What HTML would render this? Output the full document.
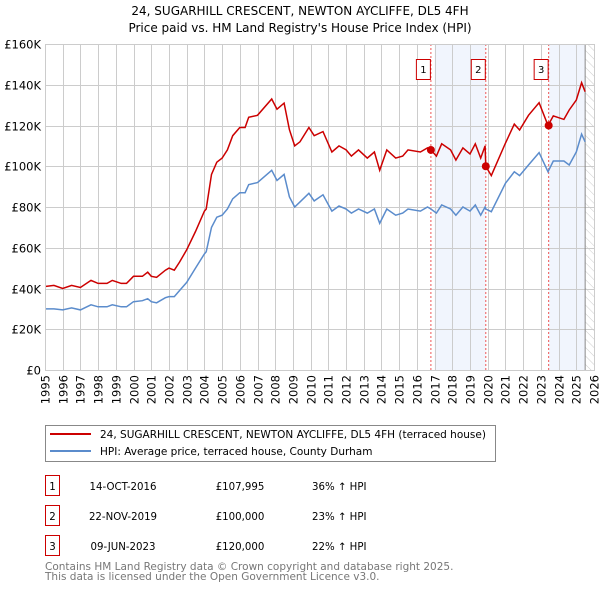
<!DOCTYPE html>
<html><head><meta charset="utf-8"><style>
body{margin:0;background:#fff;font-family:"DejaVu Sans","Liberation Sans",sans-serif;}
svg text{font-family:"DejaVu Sans","Liberation Sans",sans-serif;}
</style></head><body>
<svg id="chart" width="600" height="590" xmlns="http://www.w3.org/2000/svg">
<text x="300" y="15" text-anchor="middle" font-size="12">24, SUGARHILL CRESCENT, NEWTON AYCLIFFE, DL5 4FH</text>
<text x="300" y="32" text-anchor="middle" font-size="12">Price paid vs. HM Land Registry's House Price Index (HPI)</text>
<g id="plot"></g>
<g>
<rect x="45.5" y="425.5" width="450" height="36" fill="#fff" stroke="#888"/>
<line x1="50" y1="434" x2="91" y2="434" stroke="#cc0000" stroke-width="2"/>
<text x="100" y="438" font-size="10.5">24, SUGARHILL CRESCENT, NEWTON AYCLIFFE, DL5 4FH (terraced house)</text>
<line x1="50" y1="451" x2="91" y2="451" stroke="#5b8ccc" stroke-width="2"/>
<text x="100" y="455" font-size="10.5">HPI: Average price, terraced house, County Durham</text>
</g>
<g font-size="10.2">
<rect x="45.5" y="475.5" width="14" height="20" fill="none" stroke="#cc0000"/>
<text x="52.5" y="490" text-anchor="middle">1</text>
<text x="123" y="490" text-anchor="middle">14-OCT-2016</text>
<text x="240" y="490" text-anchor="middle">£107,995</text>
<text x="312" y="490">36% ↑ HPI</text>
<rect x="45.5" y="505.5" width="14" height="20" fill="none" stroke="#cc0000"/>
<text x="52.5" y="520" text-anchor="middle">2</text>
<text x="123" y="520" text-anchor="middle">22-NOV-2019</text>
<text x="240" y="520" text-anchor="middle">£100,000</text>
<text x="312" y="520">23% ↑ HPI</text>
<rect x="45.5" y="535.5" width="14" height="20" fill="none" stroke="#cc0000"/>
<text x="52.5" y="550" text-anchor="middle">3</text>
<text x="123" y="550" text-anchor="middle">09-JUN-2023</text>
<text x="240" y="550" text-anchor="middle">£120,000</text>
<text x="312" y="550">22% ↑ HPI</text>
</g>
<text x="45" y="570" font-size="10.5" fill="#777">Contains HM Land Registry data © Crown copyright and database right 2025.</text>
<text x="45" y="580" font-size="10.5" fill="#777">This data is licensed under the Open Government Licence v3.0.</text>
</svg>
<script>
const years=[1995,1995.5,1996,1996.5,1997,1997.6,1998,1998.5,1998.8,1999.3,1999.6,2000,2000.5,2000.8,2001,2001.3,2001.8,2002,2002.3,2002.6,2003,2003.5,2004,2004.1,2004.4,2004.7,2005,2005.3,2005.6,2006,2006.3,2006.5,2007,2007.8,2008.1,2008.5,2008.8,2009.1,2009.4,2009.9,2010.2,2010.7,2011.2,2011.6,2012,2012.3,2012.7,2013.2,2013.6,2013.9,2014.3,2014.8,2015.2,2015.5,2016.2,2016.6,2016.79,2017.1,2017.4,2017.9,2018.2,2018.6,2019,2019.3,2019.6,2019.85,2019.89,2020.2,2021,2021.5,2021.8,2022.3,2022.9,2023.4,2023.7,2024.3,2024.6,2025,2025.3,2025.5];
const hpiValues=[30,30,29.5,30.5,29.5,32,31,31,32,31,31,33.5,34,35,33.5,33,35.5,36,36,39,43,50,57,58,70,75,76,79,84,87,87,91,92,98,93,96,85,80,82.5,86.7,83,86,78,80.5,79,77,79,77,79,72,79,76,77,79,78,80,79,77,81,79,76,80,78,81,76,80,79,77.7,91.7,97.3,95.4,100.6,106.7,97.3,102.6,102.6,100.6,107,115.8,112];
const priceValues=[41,41.5,40,41.5,40.5,44,42.5,42.5,44,42.5,42.5,46,46,48,46,45.5,49,50,49,53,59,68,78,79,96,102,104,108,115,119,119,124,125,133,128,131,118,110,112,119,115,117,107,110,108,105,108,104,107,98,108,104,105,108,107,109,108,105,111,108,103,109,106,111,104,110,100,95.4,111.4,120.7,117.8,125,131.2,120,124.7,123,127.6,132.5,141,136.6];
const saleYears=[2016.79,2019.89,2023.44];
const salePrices=[108,100,120];
const saleLabels=["1","2","3"];
const yTicks=[0,20,40,60,80,100,120,140,160];
const yTickLabels=["£0","£20K","£40K","£60K","£80K","£100K","£120K","£140K","£160K"];
const xTicks=[1995,1996,1997,1998,1999,2000,2001,2002,2003,2004,2005,2006,2007,2008,2009,2010,2011,2012,2013,2014,2015,2016,2017,2018,2019,2020,2021,2022,2023,2024,2025,2026];

const NS="http://www.w3.org/2000/svg";
const L=45,R=594,T=44,B=370;
const xs=t=>L+(t-1995)/31*(R-L);
const ys=v=>B-v/160*(B-T);
const g=document.getElementById('plot');
function mk(tag,attrs){const e=document.createElementNS(NS,tag);for(const k in attrs)e.setAttribute(k,attrs[k]);g.appendChild(e);return e;}
let e=mk('rect',{x:xs(2017),y:T,width:xs(saleYears[1])-xs(2017),height:B-T,fill:'#eef3fc',opacity:0.8});


e=mk('rect',{x:xs(saleYears[2]),y:T,width:xs(2025.5)-xs(saleYears[2]),height:B-T,fill:'#eef3fc',opacity:0.8});


const defs=mk('defs',{});
defs.innerHTML='<pattern id="hatch" width="6" height="6" patternUnits="userSpaceOnUse" patternTransform="rotate(-45)"><line x1="0" y1="0" x2="0" y2="6" stroke="#ccc" stroke-width="1"/></pattern>';
e=mk('rect',{x:xs(2025.5),y:T,width:R-xs(2025.5),height:B-T,fill:'url(#hatch)'});


yTicks.forEach((v,i)=>{
 const y=Math.round(ys(v))+0.5;
 let l=mk('line',{x1:L,x2:R,y1:y,y2:y,stroke:'#ccc','stroke-width':1});
 
 
 let t=mk('text',{x:L-4,y:y+4,'text-anchor':'end','font-size':'11.5'});t.textContent=yTickLabels[i];
 
 
});
xTicks.forEach(yr=>{
 const x=Math.round(xs(yr))+0.5;
 let l=mk('line',{x1:x,x2:x,y1:T,y2:B,stroke:'#ccc','stroke-width':1});
 
 
 let t=mk('text',{x:x+4,y:B+5,'text-anchor':'end','font-size':'11.5',transform:`rotate(-90 ${x+4} ${B+5})`});t.textContent=yr;
 
 
});
e=mk('line',{x1:xs(2025.5),x2:xs(2025.5),y1:T,y2:B,stroke:'#888','stroke-width':1});


saleYears.forEach((s,i)=>{
 const x=xs(s);
 let l=mk('line',{x1:x,x2:x,y1:T,y2:B,stroke:'#ee5555','stroke-width':1,'stroke-dasharray':'2,2'});
 
 
 let r=mk('rect',{x:x-14.5,y:59.5,width:14,height:20,fill:'#fff',stroke:'#cc0000'});
 
 
 let t=mk('text',{x:x-7.5,y:73,'text-anchor':'middle','font-size':'10'});t.textContent=saleLabels[i];
 
 
});
function path(vals){return vals.map((v,i)=>(i?'L':'M')+xs(years[i]).toFixed(1)+','+ys(v).toFixed(1)).join('');}
e=mk('path',{d:path(hpiValues),fill:'none',stroke:'#5b8ccc','stroke-width':1.5});


e=mk('path',{d:path(priceValues),fill:'none',stroke:'#cc0000','stroke-width':1.5});


saleYears.forEach((s,i)=>{
 let c=mk('circle',{cx:xs(s),cy:ys(salePrices[i]),r:4,fill:'#cc0000'});
 
 
});
e=mk('rect',{x:L+0.5,y:T+0.5,width:R-L,height:B-T,fill:'none',stroke:'#ccc'});


</script>
</body></html>
